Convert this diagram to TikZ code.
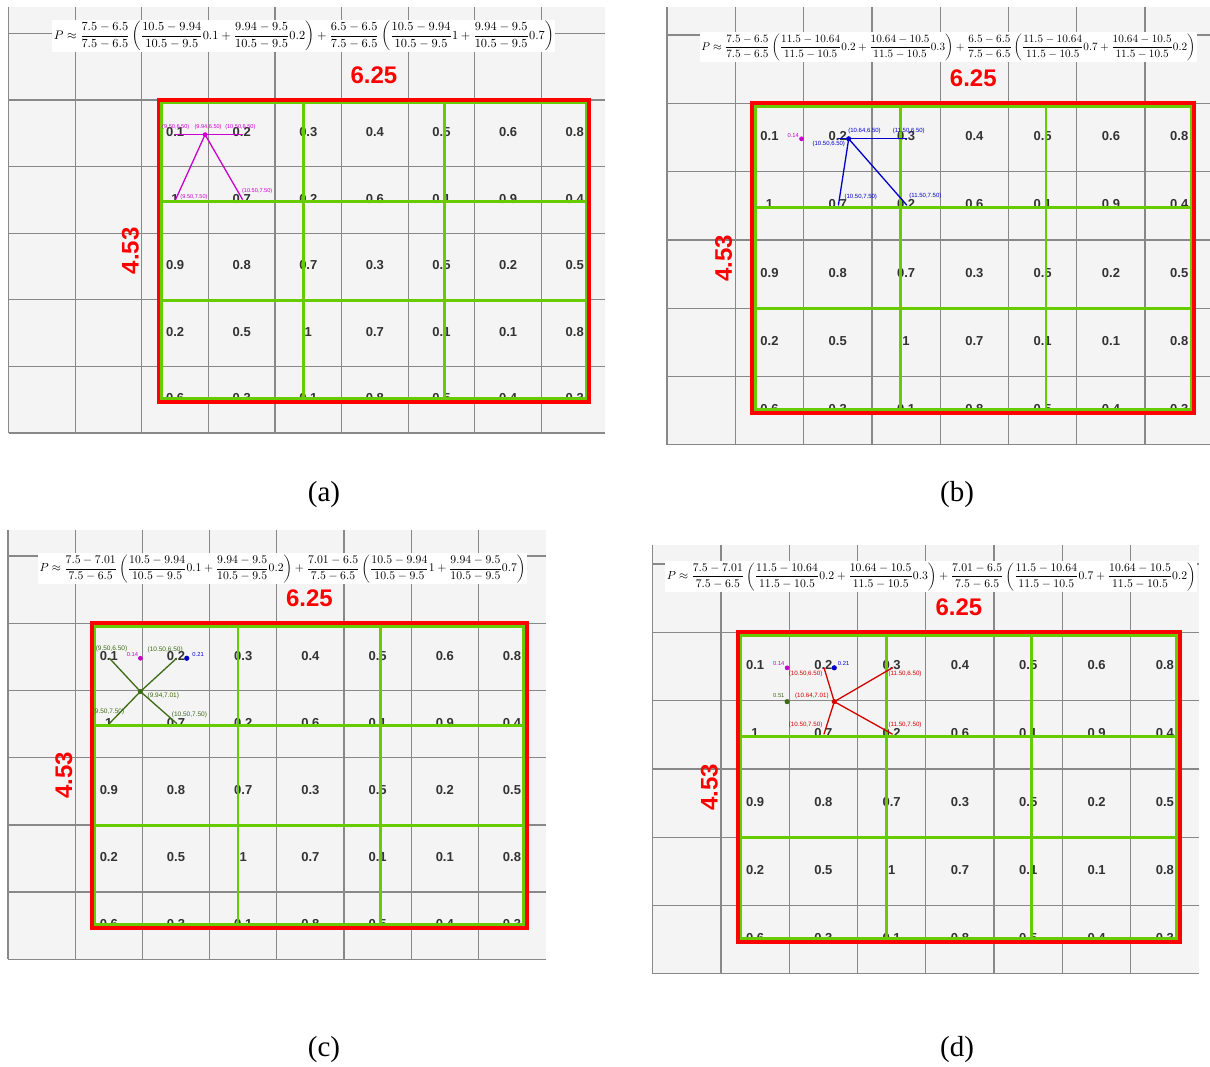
\documentclass[tikz,border=0pt]{standalone}
\usepackage{amsmath}
\usepackage{graphicx}
\usepackage[no-math]{fontspec}
\newfontfamily\mapfont{Liberation Sans}
\newfontfamily\capfont{Liberation Serif}
\usetikzlibrary{positioning}

\definecolor{mapbg}{HTML}{F4F4F4}
\definecolor{mapgrid}{HTML}{888888}
\definecolor{numgray}{HTML}{333333}
\definecolor{framered}{HTML}{FF0000}
\definecolor{coarsegreen}{HTML}{66CC00}
\definecolor{ipmag}{HTML}{CC00CC}
\definecolor{ipblue}{HTML}{0000CC}
\definecolor{ipgreen}{HTML}{3D6B14}
\definecolor{ipred}{HTML}{D40000}

% one screenshot: grey map grid, cell values, red window, green 3x3 grid
% #1 prefix, #2 right edge, #3 top edge, #4 window left, #5 last grid column
\newcommand{\mappanel}[5]{%
  \fill[mapbg] (0,#3) rectangle (#2,5);
  \foreach \gx in {0,...,#5} \draw[mapline] (\gx,#3) -- (\gx,5);
  \foreach \gy in {-1,...,5} \draw[mapline] (0,\gy) -- (#2,\gy);
  \begin{scope}
    \clip (#4,0) rectangle (#4+6.47,4.53);
    \foreach \rowvals [count=\ri from 0] in {{0.1,0.2,0.3,0.4,0.5,0.6,0.8},{1,0.7,0.2,0.6,0.1,0.9,0.4},{0.9,0.8,0.7,0.3,0.5,0.2,0.5},{0.2,0.5,1,0.7,0.1,0.1,0.8},{0.6,0.3,0.1,0.8,0.5,0.4,0.3}}
      \foreach \v [count=\ci from 0] in \rowvals
        \node[cellnum] (#1-v\ri\ci) at (#4+0.25+\ci,\ri+0.48) {\v};
  \end{scope}
  \draw[coarseline] (#4+0.045,0.045) rectangle (#4+6.425,4.485);
  \draw[coarseline] (#4+2.172,0.045) -- (#4+2.172,4.485);
  \draw[coarseline] (#4+4.298,0.045) -- (#4+4.298,4.485);
  \draw[coarseline] (#4+0.045,1.525) -- (#4+6.425,1.525);
  \draw[coarseline] (#4+0.045,3.005) -- (#4+6.425,3.005);
  \draw[winframe] (#4,0) rectangle (#4+6.47,4.53);
  \node[sizelab] (#1-wd) at (#4+3.235,-0.37) {6.25};
  \node[sizelab, rotate=90] (#1-ht) at (#4-0.42,2.265) {4.53};
}

\begin{document}
\begin{tikzpicture}[x=1pt, y=1pt,
  mapline/.style={draw=mapgrid, line width=1.25pt},
  cellnum/.style={font=\mapfont\bfseries\fontsize{13}{13}\selectfont, text=numgray, inner sep=0pt},
  coarseline/.style={draw=coarsegreen, line width=2.8pt},
  winframe/.style={draw=framered, line width=3.8pt},
  sizelab/.style={font=\mapfont\bfseries\fontsize{24}{24}\selectfont, text=framered, inner sep=0pt},
  formula/.style={fill=white, inner sep=1.5pt},
  ptlab/.style={font=\mapfont\fontsize{\ptsize}{\ptsize}\selectfont, text=#1, inner sep=0.5pt},
  vallab/.style={font=\mapfont\fontsize{5.8}{5.8}\selectfont, text=#1, inner sep=0.5pt},
  ipline/.style={draw=#1, line width=1.3pt, line cap=round},
  subcap/.style={font=\capfont\fontsize{29}{29}\selectfont, inner sep=0pt},
]
\path[fill=white] (0,0) rectangle (1210,-1066);
\useasboundingbox (0,0) rectangle (1210,-1066);

% ---------------- (a) first row, x = 9.94 ----------------
\begin{scope}[shift={(8.6,-100)}, x=66.6pt, y=-66.6pt]
  \def\ptsize{5.6}
  \mappanel{a}{8.95}{-1.4}{2.25}{8}
  \node[formula] (a-eq) at (4.435,-0.96) {\resizebox{500pt}{!}{$\displaystyle P \approx \frac{7.5-6.5}{7.5-6.5}\left(\frac{10.5-9.94}{10.5-9.5}0.1+\frac{9.94-9.5}{10.5-9.5}0.2\right)+\frac{6.5-6.5}{7.5-6.5}\left(\frac{10.5-9.94}{10.5-9.5}1+\frac{9.94-9.5}{10.5-9.5}0.7\right)$}};
  \coordinate (a-p00) at (2.51,0.52);
  \coordinate (a-p10) at (3.51,0.52);
  \coordinate (a-p01) at (2.51,1.49);
  \coordinate (a-p11) at (3.51,1.49);
  \coordinate (a-q) at (2.95,0.52);
  \draw[ipline=ipmag] (a-p00) -- (a-p10);
  \draw[ipline=ipmag] (a-q) -- (a-p01);
  \draw[ipline=ipmag] (a-q) -- (a-p11);
  \fill[ipmag] (a-q) circle (2.4pt);
  \node[ptlab=ipmag, anchor=south] (a-l00) at ([yshift=4pt]a-p00) {(9.50,6.50)};
  \node[ptlab=ipmag, anchor=south] (a-lq) at ([xshift=3pt,yshift=4pt]a-q) {(9.94,6.50)};
  \node[ptlab=ipmag, anchor=south] (a-l10) at ([xshift=-2pt,yshift=4pt]a-p10) {(10.50,6.50)};
  \node[ptlab=ipmag, anchor=west] (a-l01) at ([xshift=4pt,yshift=2.5pt]a-p01) {(9.50,7.50)};
  \node[ptlab=ipmag, anchor=west] (a-l11) at ([xshift=-1pt,yshift=8.5pt]a-p11) {(10.50,7.50)};
\end{scope}

% ---------------- (b) first row, x = 10.64 ----------------
\begin{scope}[shift={(667,-103.3)}, x=68.3pt, y=-68.3pt]
  \def\ptsize{6}
  \mappanel{b}{7.95}{-1.41}{1.25}{7}
  \node[formula] (b-eq) at (4.12,-0.82) {\resizebox{494pt}{!}{$\displaystyle P \approx \frac{7.5-6.5}{7.5-6.5}\left(\frac{11.5-10.64}{11.5-10.5}0.2+\frac{10.64-10.5}{11.5-10.5}0.3\right)+\frac{6.5-6.5}{7.5-6.5}\left(\frac{11.5-10.64}{11.5-10.5}0.7+\frac{10.64-10.5}{11.5-10.5}0.2\right)$}};
  \coordinate (b-p00) at (2.51,0.52);
  \coordinate (b-p10) at (3.51,0.52);
  \coordinate (b-p01) at (2.51,1.49);
  \coordinate (b-p11) at (3.51,1.49);
  \coordinate (b-q) at (2.66,0.52);
  \coordinate (b-m) at (1.97,0.52);
  \draw[ipline=ipblue] (b-p00) -- (b-p10);
  \draw[ipline=ipblue] (b-q) -- (b-p01);
  \draw[ipline=ipblue] (b-q) -- (b-p11);
  \fill[ipblue] (b-q) circle (2.6pt);
  \fill[ipmag] (b-m) circle (2.4pt);
  \node[vallab=ipmag, anchor=south east] (b-lm) at ([xshift=-2pt,yshift=1pt]b-m) {0.14};
  \node[ptlab=ipblue, anchor=south west] (b-lq) at ([xshift=-1pt,yshift=4pt]b-q) {(10.64,6.50)};
  \node[ptlab=ipblue, anchor=north east] (b-l00) at ([xshift=-3pt,yshift=-1.5pt]b-q) {(10.50,6.50)};
  \node[ptlab=ipblue, anchor=south] (b-l10) at ([xshift=2pt,yshift=4pt]b-p10) {(11.50,6.50)};
  \node[ptlab=ipblue, anchor=south west] (b-l01) at ([xshift=5.5pt,yshift=5pt]b-p01) {(10.50,7.50)};
  \node[ptlab=ipblue, anchor=south west] (b-l11) at ([xshift=2pt,yshift=5.5pt]b-p11) {(11.50,7.50)};
\end{scope}

% ---------------- (c) second row, y = 7.01 ----------------
\begin{scope}[shift={(8,-623.3)}, x=67.2pt, y=-67.2pt]
  \def\ptsize{6.5}
  \mappanel{c}{8.0}{-1.39}{1.25}{7}
  \node[formula] (c-eq) at (4.085,-0.81) {\resizebox{486pt}{!}{$\displaystyle P \approx \frac{7.5-7.01}{7.5-6.5}\left(\frac{10.5-9.94}{10.5-9.5}0.1+\frac{9.94-9.5}{10.5-9.5}0.2\right)+\frac{7.01-6.5}{7.5-6.5}\left(\frac{10.5-9.94}{10.5-9.5}1+\frac{9.94-9.5}{10.5-9.5}0.7\right)$}};
  \coordinate (c-p00) at (1.51,0.52);
  \coordinate (c-p10) at (2.51,0.52);
  \coordinate (c-p01) at (1.51,1.49);
  \coordinate (c-p11) at (2.51,1.49);
  \coordinate (c-q) at (1.97,1.015);
  \coordinate (c-m) at (1.97,0.52);
  \coordinate (c-b) at (2.66,0.52);
  \draw[ipline=ipgreen] (c-q) -- (c-p00);
  \draw[ipline=ipgreen] (c-q) -- (c-p10);
  \draw[ipline=ipgreen] (c-q) -- (c-p01);
  \draw[ipline=ipgreen] (c-q) -- (c-p11);
  \fill[ipgreen] (c-q) circle (2.6pt);
  \fill[ipmag] (c-m) circle (2.4pt);
  \fill[ipblue] (c-b) circle (2.6pt);
  \node[vallab=ipmag, anchor=south east] (c-lm) at ([xshift=-1.5pt,yshift=1pt]c-m) {0.14};
  \node[vallab=ipblue, anchor=south west] (c-lb) at ([xshift=5pt,yshift=1pt]c-b) {0.21};
  \node[ptlab=ipgreen, anchor=south] (c-l00) at ([xshift=2pt,yshift=5.5pt]c-p00) {(9.50,6.50)};
  \node[ptlab=ipgreen, anchor=south] (c-l10) at ([xshift=-11.5pt,yshift=4.5pt]c-p10) {(10.50,6.50)};
  \node[ptlab=ipgreen, anchor=west] (c-lq) at ([xshift=6.5pt,yshift=-4pt]c-q) {(9.94,7.01)};
  \node[ptlab=ipgreen, anchor=south] (c-l01) at ([xshift=-1pt,yshift=8pt]c-p01) {(9.50,7.50)};
  \node[ptlab=ipgreen, anchor=south west] (c-l11) at ([xshift=-5.5pt,yshift=4.5pt]c-p11) {(10.50,7.50)};
\end{scope}

% ---------------- (d) second row, x = 10.64 ----------------
\begin{scope}[shift={(652.6,-632.3)}, x=68.3pt, y=-68.3pt]
  \def\ptsize{6.2}
  \mappanel{d}{8.0}{-1.28}{1.25}{7}
  \node[formula] (d-eq) at (4.08,-0.815) {\resizebox{529pt}{!}{$\displaystyle P \approx \frac{7.5-7.01}{7.5-6.5}\left(\frac{11.5-10.64}{11.5-10.5}0.2+\frac{10.64-10.5}{11.5-10.5}0.3\right)+\frac{7.01-6.5}{7.5-6.5}\left(\frac{11.5-10.64}{11.5-10.5}0.7+\frac{10.64-10.5}{11.5-10.5}0.2\right)$}};
  \coordinate (d-p00) at (2.51,0.52);
  \coordinate (d-p10) at (3.51,0.52);
  \coordinate (d-p01) at (2.51,1.49);
  \coordinate (d-p11) at (3.51,1.49);
  \coordinate (d-q) at (2.66,1.015);
  \coordinate (d-m) at (1.97,0.52);
  \coordinate (d-b) at (2.66,0.52);
  \coordinate (d-g) at (1.97,1.015);
  \draw[ipline=ipred] (d-q) -- (d-p00);
  \draw[ipline=ipred] (d-q) -- (d-p10);
  \draw[ipline=ipred] (d-q) -- (d-p01);
  \draw[ipline=ipred] (d-q) -- (d-p11);
  \fill[ipred] (d-q) circle (2.6pt);
  \fill[ipmag] (d-m) circle (2.4pt);
  \fill[ipblue] (d-b) circle (2.6pt);
  \fill[ipgreen] (d-g) circle (2.6pt);
  \node[vallab=ipmag, anchor=south east] (d-lm) at ([xshift=-2pt,yshift=1.5pt]d-m) {0.14};
  \node[vallab=ipblue, anchor=south west] (d-lb) at ([xshift=3pt,yshift=1.5pt]d-b) {0.21};
  \node[vallab=ipgreen, anchor=south east] (d-lg) at ([xshift=-2pt,yshift=3pt]d-g) {0.51};
  \node[ptlab=ipred, anchor=north east] (d-l00) at ([xshift=-1pt,yshift=-2.8pt]d-p00) {(10.50,6.50)};
  \node[ptlab=ipred, anchor=north west] (d-l10) at ([xshift=-4.5pt,yshift=-2.8pt]d-p10) {(11.50,6.50)};
  \node[ptlab=ipred, anchor=south east] (d-lq) at ([xshift=-5pt,yshift=2.5pt]d-q) {(10.64,7.01)};
  \node[ptlab=ipred, anchor=south east] (d-l01) at ([xshift=-1pt,yshift=5.7pt]d-p01) {(10.50,7.50)};
  \node[ptlab=ipred, anchor=south west] (d-l11) at ([xshift=-4.5pt,yshift=5.7pt]d-p11) {(11.50,7.50)};
\end{scope}

% ---------------- sub-captions ----------------
\node[subcap] (cap-a) at (324,-495) {(a)};
\node[subcap] (cap-b) at (957,-495) {(b)};
\node[subcap] (cap-c) at (324,-1050) {(c)};
\node[subcap] (cap-d) at (957,-1050) {(d)};
\end{tikzpicture}
\end{document}
